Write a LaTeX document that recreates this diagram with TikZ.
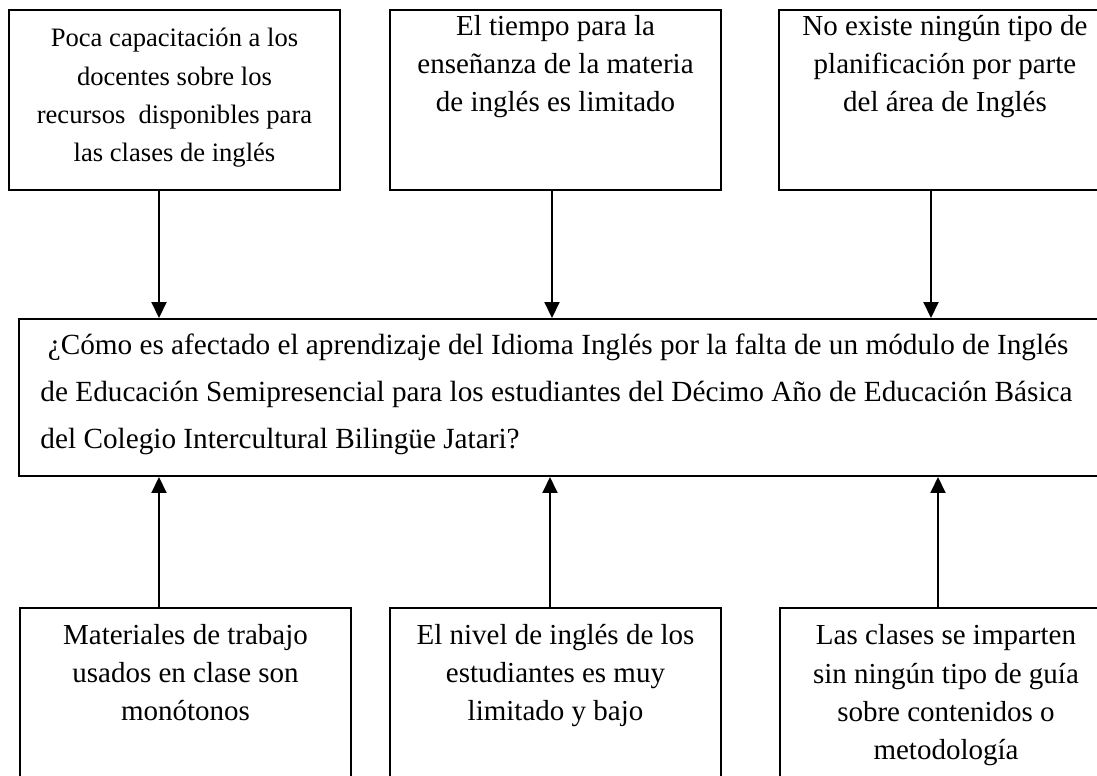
\documentclass[tikz,border=0pt]{standalone}
\usepackage{fontspec}
\setmainfont{Liberation Serif}
\usetikzlibrary{arrows.meta}

\tikzset{
    caja/.style={draw, line width=0.8pt, rectangle, inner sep=0pt, anchor=north west},
    texto/.style={anchor=base, align=center, inner sep=0pt, font=\fontsize{12}{15.9}\selectfont},
    flecha/.style={line width=0.8pt, -{Triangle[width=6.2pt,length=6.6pt]}},
}

\begin{document}
\begin{tikzpicture}[x=0.4138pt, y=-0.4138pt]
    \useasboundingbox (0,0) rectangle (1097,776);
    \clip (0,0) rectangle (1097,776);

    \node[caja, minimum width=137pt, minimum height=74.5pt] (c1) at (8,9) {};
    \node[caja, minimum width=137pt, minimum height=74.5pt] (c2) at (389,9) {};
    \node[caja, minimum width=137.4pt, minimum height=74.5pt] (c3) at (778,9) {};
    \node[texto, font=\fontsize{11}{15.9}\selectfont] (tc1) at (c1.north |- 0,162)
        {Poca capacitación a los\\docentes sobre los\\recursos\ \ disponibles para\\las clases de inglés};
    \node[texto] (tc2) at (c2.north |- 0,112)
        {El tiempo para la\\enseñanza de la materia\\de inglés es limitado};
    \node[texto] (tc3) at (c3.north |- 0,112)
        {No existe ningún tipo de\\planificación por parte\\del área de Inglés};

    \node[caja, minimum width=456pt, minimum height=65pt] (pregunta) at (18,318) {};
    \node[texto, anchor=base west, align=left, font=\fontsize{12.1}{19.45}\selectfont] (tp) at (40,449)
        {\ ¿Cómo es afectado el aprendizaje del Idioma Inglés por la falta de un módulo de Inglés\\de Educación Semipresencial para los estudiantes del Décimo Año de Educación Básica\\del Colegio Intercultural Bilingüe Jatari?};

    \node[caja, minimum width=137pt, minimum height=80pt] (e1) at (19,607) {};
    \node[caja, minimum width=137pt, minimum height=80pt] (e2) at (389,607) {};
    \node[caja, minimum width=137.4pt, minimum height=80pt] (e3) at (779,607) {};
    \node[texto] (te1) at (e1.north |- 0,721)
        {Materiales de trabajo\\usados en clase son\\monótonos};
    \node[texto] (te2) at (e2.north |- 0,721)
        {El nivel de inglés de los\\estudiantes es muy\\limitado y bajo};
    \node[texto] (te3) at (e3.north |- 0,760)
        {Las clases se imparten\\sin ningún tipo de guía\\sobre contenidos o\\metodología};

    \draw[flecha] (c1.south -| 159,0) -- (pregunta.north -| 159,0);
    \draw[flecha] (c2.south -| 552,0) -- (pregunta.north -| 552,0);
    \draw[flecha] (c3.south -| 931,0) -- (pregunta.north -| 931,0);
    \draw[flecha] (e1.north -| 159,0) -- (pregunta.south -| 159,0);
    \draw[flecha] (e2.north -| 550,0) -- (pregunta.south -| 550,0);
    \draw[flecha] (e3.north -| 938,0) -- (pregunta.south -| 938,0);
\end{tikzpicture}
\end{document}
